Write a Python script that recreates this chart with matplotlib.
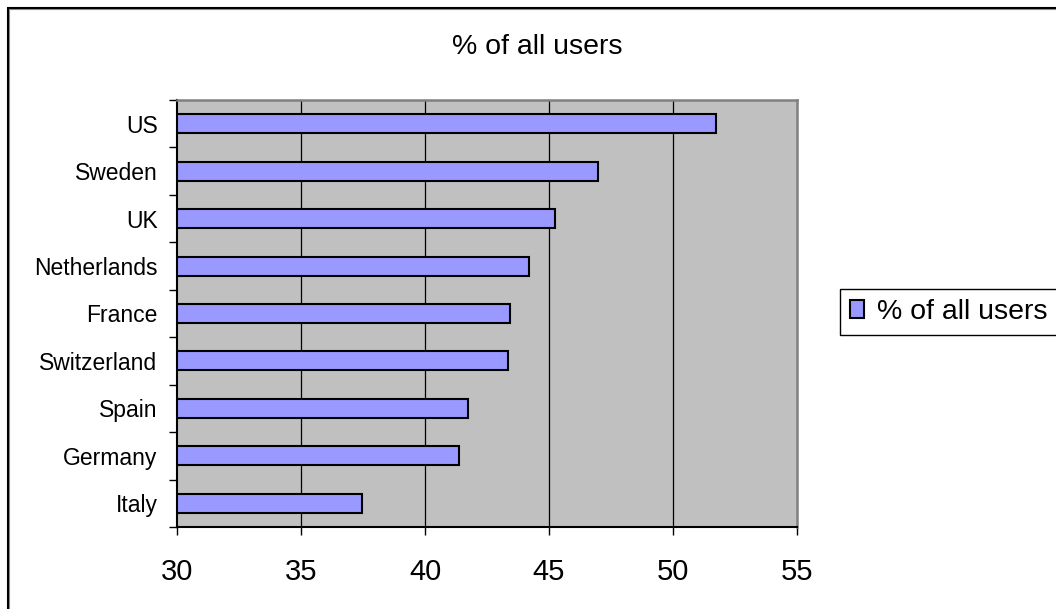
import matplotlib
matplotlib.use("Agg")
import matplotlib.pyplot as plt
from matplotlib.patches import Rectangle
from matplotlib.ticker import FixedLocator

plt.rcParams['font.family'] = ['Liberation Sans', 'DejaVu Sans']

# --- dati ---
paesi = ["US", "Sweden", "UK", "Netherlands", "France",
         "Switzerland", "Spain", "Germany", "Italy"]
percentuali = [51.75, 46.97, 45.23, 44.18, 43.42, 43.33, 41.75, 41.37, 37.44]
serie = "% of all users"
titolo = "% of all users"
x_ticks = [30, 35, 40, 45, 50, 55]

W, H = 1056, 609
fig = plt.figure(figsize=(W / 100, H / 100), dpi=100)

# area del grafico (pixel misurati sull'immagine)
left, right, top, bottom = 177, 797, 100, 527
ax = fig.add_axes([left / W, 1 - bottom / H, (right - left) / W, (bottom - top) / H])
ax.set_facecolor("#C0C0C0")

# barre: US in alto
pos = list(range(len(paesi)))[::-1]
ax.barh(pos, [v - 30 for v in percentuali], left=30, height=0.4,
        color="#9999FF", edgecolor="black", linewidth=1.5, label=serie, zorder=3)

ax.set_xlim(30, 55)
ax.set_ylim(-0.5, len(paesi) - 0.5)

# griglia verticale nera
for g in x_ticks[1:-1]:
    ax.axvline(g, color="black", linewidth=0.9, zorder=1)

ax.set_xticks(x_ticks)
ax.set_xticklabels([str(t) for t in x_ticks], fontsize=21)
ax.tick_params(axis="x", direction="out", length=6, width=1, color="black", pad=16)

ax.set_yticks(pos)
ax.set_yticklabels(paesi, fontsize=16.5)
ax.tick_params(axis="y", which="major", length=0, pad=14)
ax.yaxis.set_minor_locator(FixedLocator([i - 0.5 for i in range(len(paesi) + 1)]))
ax.tick_params(axis="y", which="minor", direction="out", length=5.5, width=1, color="black")

for lato in ["left", "bottom"]:
    ax.spines[lato].set_color("black")
    ax.spines[lato].set_linewidth(1.5)
for lato in ["top", "right"]:
    ax.spines[lato].set_color("#808080")
    ax.spines[lato].set_linewidth(1.8)

# titolo
fig.text(537 / W, 1 - 54.3 / H, titolo, ha="center", va="baseline", fontsize=20.5)

# legenda (tagliata dal bordo destro come nell'originale)
leg = fig.legend(loc="center left", bbox_to_anchor=(840 / W, 1 - 312 / H),
                 fontsize=20.5, frameon=True, fancybox=False, shadow=False,
                 handlelength=0.5, handleheight=0.55, handletextpad=0.45,
                 borderpad=0.35, borderaxespad=0)
leg.get_frame().set_edgecolor("black")
leg.get_frame().set_linewidth(1.0)
leg.get_frame().set_facecolor("white")
leg.get_frame().set_alpha(1)

# cornice del grafico (tagliata a destra e in basso)
fig.patches.append(Rectangle((9.3 / W, -0.1), 1.2, 1.1 - 9.3 / H,
                             transform=fig.transFigure, fill=False,
                             edgecolor="#909090", linewidth=0.8))
fig.patches.append(Rectangle((8 / W, -0.1), 1.2, 1.1 - 8 / H,
                             transform=fig.transFigure, fill=False,
                             edgecolor="black", linewidth=1.5))

fig.savefig("out.png", dpi=100)
